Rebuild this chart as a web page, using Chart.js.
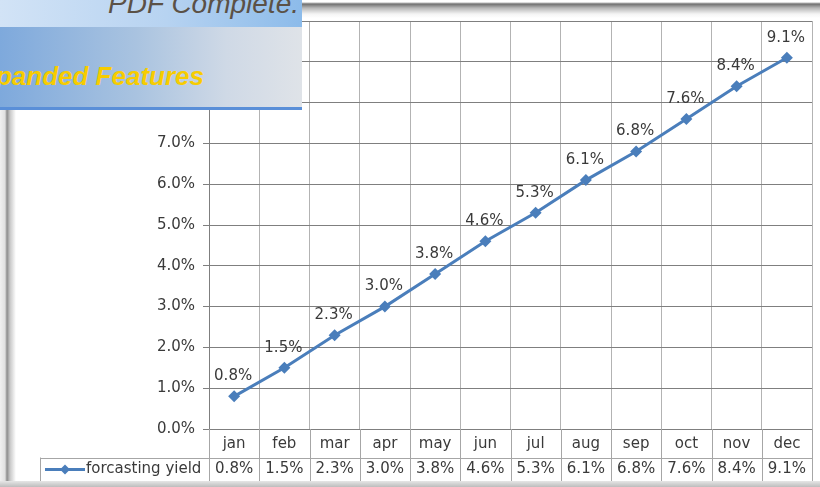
<!DOCTYPE html>
<html lang="en">
<head>
    <meta charset="UTF-8">
    <title>forcasting yield</title>
    <script src="https://cdn.jsdelivr.net/npm/chart.js"></script>
    <style>
        html, body { margin: 0; padding: 0; background: #fff; }
        #wrap { position: relative; width: 820px; height: 487px; overflow: hidden; }
        #yieldChart { position: absolute; left: 0; top: 0; }
        /* window frame shading */
        .edge-top { position: absolute; left: 0; top: 0; width: 820px; height: 18px;
            background: linear-gradient(to bottom, #fff 0px, #fff 2px, #707070 4px, #b8b8b8 8px, #f4f4f4 14px, rgba(255,255,255,0) 18px); }
        .edge-left { position: absolute; left: 0; top: 0; width: 16px; height: 487px;
            background: linear-gradient(to right, #f0f0f0 0px, #e0e0e0 5px, #8c8c8c 7px, #c8c8c8 10px, rgba(255,255,255,0) 16px); }
        .edge-bottom { position: absolute; left: 0; bottom: 0; width: 820px; height: 6px;
            background: linear-gradient(to bottom, #e6e6e6, #bdbdbd); }
        /* toolbar banner */
        #banner { position: absolute; left: 0; top: 0; width: 302px; height: 110px; overflow: hidden; }
        #banner .top { position: absolute; left: 0; top: 0; width: 302px; height: 27px;
            background: linear-gradient(to right, #d2e3f6, #b7d3f1 55%, #8cbbea); }
        #banner .top span { position: absolute; right: 3px; top: -12px; font: italic 28px "Liberation Sans", sans-serif; color: #5b5146; white-space: nowrap; }
        #banner .main { position: absolute; left: 0; top: 27px; width: 302px; height: 80px;
            background: linear-gradient(to right, #7ea9dc, #a9c3e0 45%, #cfd9e6 75%, #dfe3e8); }
        #banner .main span { position: absolute; right: 98px; top: 34px; font: italic bold 26px "Liberation Sans", sans-serif; color: #f7cc00; white-space: nowrap; }
        #banner .line { position: absolute; left: 0; top: 107px; width: 302px; height: 3px; background: #5a8fd8; }
    </style>
</head>
<body>
<div id="wrap">
    <canvas id="yieldChart" width="820" height="487"></canvas>
    <div class="edge-top"></div>
    <div class="edge-left"></div>
    <div class="edge-bottom"></div>
    <div id="banner">
        <div class="top"><span>PDF Complete.</span></div>
        <div class="main"><span>Expanded Features</span></div>
        <div class="line"></div>
    </div>
</div>

<script>
    const months = ["jan", "feb", "mar", "apr", "may", "jun", "jul", "aug", "sep", "oct", "nov", "dec"];
    const yieldValues = [0.8, 1.5, 2.3, 3.0, 3.8, 4.6, 5.3, 6.1, 6.8, 7.6, 8.4, 9.1];
    const seriesName = "forcasting yield";

    const lineBlue = "#4a7ebb";
    const textColor = "#3a3a3a";
    const font = '15px "DejaVu Sans", sans-serif';

    const fmt = v => v.toFixed(1) + "%";

    // labels above each point
    const pointLabels = {
        id: "pointLabels",
        afterDatasetsDraw(chart) {
            const ctx = chart.ctx;
            const meta = chart.getDatasetMeta(0);
            ctx.save();
            ctx.font = font;
            ctx.fillStyle = textColor;
            ctx.textAlign = "center";
            ctx.textBaseline = "middle";
            meta.data.forEach((pt, i) => {
                ctx.fillText(fmt(yieldValues[i]), pt.x - 1, pt.y - 20);
            });
            ctx.restore();
        }
    };

    // data table under the plot
    const dataTable = {
        id: "dataTable",
        afterDraw(chart) {
            const ctx = chart.ctx;
            const area = chart.chartArea;
            const x = chart.scales.x;
            const top = area.bottom;
            const mid = top + 28.5;
            const bottom = mid + 24.5;
            const legendLeft = 40;
            const colW = (area.right - area.left) / months.length;

            ctx.save();
            ctx.strokeStyle = "#a6a6a6";
            ctx.lineWidth = 1;
            ctx.beginPath();
            // column borders
            for (let i = 0; i <= months.length; i++) {
                const cx = Math.round(area.left + i * colW) + 0.5;
                ctx.moveTo(cx, top);
                ctx.lineTo(cx, bottom);
            }
            ctx.moveTo(legendLeft + 0.5, mid);
            ctx.lineTo(legendLeft + 0.5, bottom);
            ctx.moveTo(legendLeft, Math.round(mid) + 0.5);
            ctx.lineTo(area.right, Math.round(mid) + 0.5);
            ctx.moveTo(legendLeft, Math.round(bottom) + 0.5);
            ctx.lineTo(area.right, Math.round(bottom) + 0.5);
            ctx.stroke();

            ctx.font = font;
            ctx.fillStyle = textColor;
            ctx.textAlign = "center";
            ctx.textBaseline = "middle";
            months.forEach((m, i) => {
                const cx = x.getPixelForValue(i);
                ctx.fillText(m, cx, top + 15);
                ctx.fillText(fmt(yieldValues[i]), cx, mid + 12);
            });

            // legend key
            const ly = mid + 12;
            ctx.strokeStyle = lineBlue;
            ctx.lineWidth = 3;
            ctx.beginPath();
            ctx.moveTo(45, ly);
            ctx.lineTo(85, ly);
            ctx.stroke();
            ctx.fillStyle = lineBlue;
            ctx.beginPath();
            ctx.moveTo(65, ly - 5);
            ctx.lineTo(70, ly);
            ctx.lineTo(65, ly + 5);
            ctx.lineTo(60, ly);
            ctx.closePath();
            ctx.fill();
            ctx.fillStyle = textColor;
            ctx.textAlign = "left";
            ctx.fillText(seriesName, 86, ly);
            ctx.restore();
        }
    };

    new Chart(document.getElementById("yieldChart"), {
        type: "line",
        data: {
            labels: months,
            datasets: [{
                label: seriesName,
                data: yieldValues,
                borderColor: lineBlue,
                backgroundColor: lineBlue,
                borderWidth: 3,
                pointStyle: "rectRot",
                pointRadius: 6,
                pointBackgroundColor: lineBlue,
                pointBorderColor: lineBlue,
                pointBorderWidth: 0,
                tension: 0
            }]
        },
        options: {
            responsive: false,
            animation: false,
            devicePixelRatio: 1,
            layout: { padding: { top: 21, right: 8, bottom: 58, left: 0 } },
            plugins: {
                legend: { display: false },
                tooltip: { enabled: false }
            },
            scales: {
                x: {
                    type: "category",
                    offset: true,
                    grid: { offset: true, color: "#b3b3b3", lineWidth: 1, drawTicks: false },
                    border: { display: false },
                    ticks: { display: false }
                },
                y: {
                    min: 0,
                    max: 10,
                    afterFit: scale => { scale.width = 209; },
                    grid: { color: "#7f7f7f", lineWidth: 1, tickLength: 6 },
                    border: { color: "#7f7f7f" },
                    ticks: {
                        stepSize: 1,
                        padding: 8,
                        color: textColor,
                        font: { family: "DejaVu Sans", size: 15 },
                        callback: v => fmt(v)
                    }
                }
            }
        },
        plugins: [pointLabels, dataTable]
    });
</script>
</body>
</html>
